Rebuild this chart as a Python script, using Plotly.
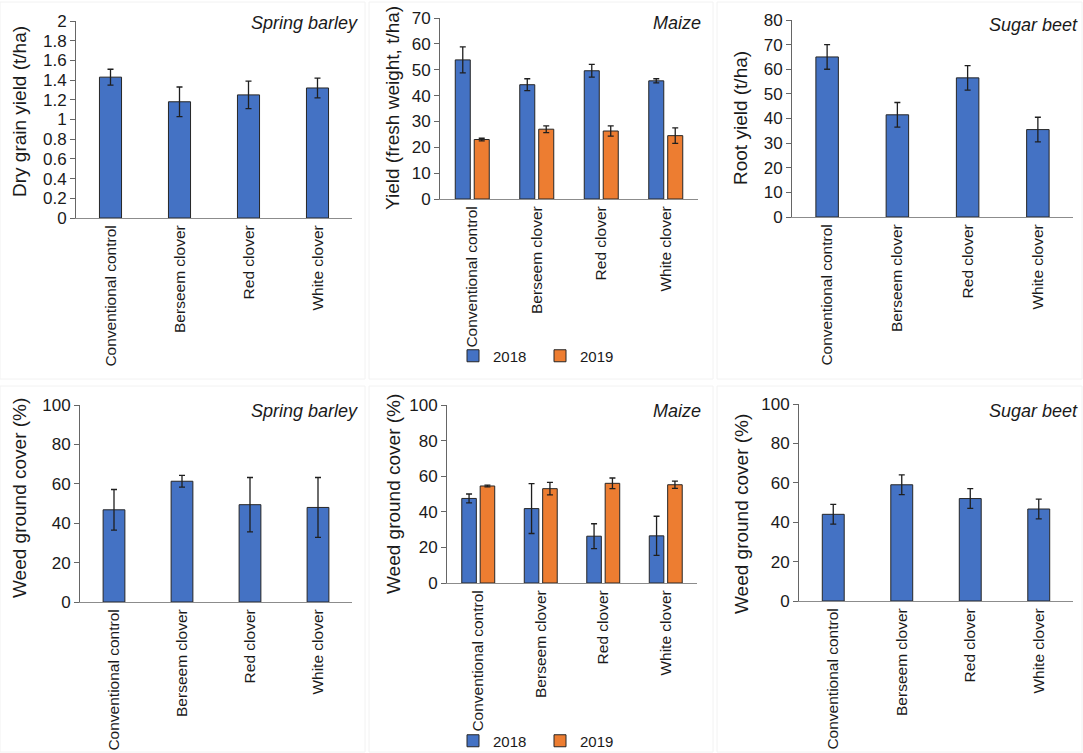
import plotly.graph_objects as go

categories = ["Conventional control", "Berseem clover", "Red clover", "White clover"]

# Top row: yields
barley_yield = [1.43, 1.18, 1.25, 1.32]
barley_yield_err = [0.08, 0.15, 0.14, 0.10]

maize_yield_2018 = [53.8, 44.2, 49.6, 45.7]
maize_yield_2018_err = [5.0, 2.3, 2.5, 0.8]
maize_yield_2019 = [23.0, 27.0, 26.3, 24.5]
maize_yield_2019_err = [0.5, 1.3, 2.0, 3.0]

beet_yield = [65.0, 41.5, 56.5, 35.5]
beet_yield_err = [5.0, 5.0, 5.0, 5.0]

# Bottom row: weed ground cover
barley_weed = [46.8, 61.3, 49.4, 48.0]
barley_weed_err = [10.3, 3.0, 13.8, 15.2]

maize_weed_2018 = [47.5, 41.8, 26.3, 26.5]
maize_weed_2018_err = [2.5, 14.0, 7.0, 11.0]
maize_weed_2019 = [54.5, 53.0, 56.0, 55.2]
maize_weed_2019_err = [0.5, 3.5, 3.0, 2.0]

beet_weed = [44.0, 59.0, 52.0, 46.7]
beet_weed_err = [5.0, 5.0, 5.0, 5.0]

W, H = 1083, 753
BLUE = "#4472C4"
ORANGE = "#ED7D31"
EDGE = "#262626"
FONT = "Liberation Sans, Arial, sans-serif"

def px_x(a, b):
    return [a / W, b / W]

def px_y(top, bottom):
    return [1 - bottom / H, 1 - top / H]

panels = [
    # (xdomain px, ydomain px, yrange, dtick)
    ((76, 352), (21, 218), [0, 2], 0.2),
    ((440, 698), (18, 199), [0, 70], 10),
    ((792, 1073), (20, 217), [0, 80], 10),
    ((80, 352), (405, 602), [0, 100], 20),
    ((447, 697), (405, 583), [0, 100], 20),
    ((799, 1073), (404, 601), [0, 100], 20),
]

fig = go.Figure()

err_style = dict(type="data", color="#1f1f1f", thickness=1.3, width=3)
single_w = 0.32
pair_w = 0.233
pair_gap = 0.147

def single(idx, vals, errs):
    fig.add_trace(go.Bar(
        x=categories, y=vals, width=single_w,
        marker=dict(color=BLUE, line=dict(color=EDGE, width=1)),
        error_y=dict(array=errs, **err_style),
        xaxis=f"x{idx}", yaxis=f"y{idx}", showlegend=False,
    ))

def pair(idx, v1, e1, v2, e2, legend):
    fig.add_trace(go.Bar(
        x=categories, y=v1, width=pair_w, offset=-pair_gap - pair_w / 2,
        name="2018",
        marker=dict(color=BLUE, line=dict(color=EDGE, width=1)),
        error_y=dict(array=e1, **err_style),
        xaxis=f"x{idx}", yaxis=f"y{idx}", legend=legend,
    ))
    fig.add_trace(go.Bar(
        x=categories, y=v2, width=pair_w, offset=pair_gap - pair_w / 2,
        name="2019",
        marker=dict(color=ORANGE, line=dict(color=EDGE, width=1)),
        error_y=dict(array=e2, **err_style),
        xaxis=f"x{idx}", yaxis=f"y{idx}", legend=legend,
    ))

single(1, barley_yield, barley_yield_err)
pair(2, maize_yield_2018, maize_yield_2018_err, maize_yield_2019, maize_yield_2019_err, "legend")
single(3, beet_yield, beet_yield_err)
single(4, barley_weed, barley_weed_err)
pair(5, maize_weed_2018, maize_weed_2018_err, maize_weed_2019, maize_weed_2019_err, "legend2")
single(6, beet_weed, beet_weed_err)

legend_common = dict(orientation="h", xanchor="center", yanchor="middle",
                     font=dict(size=15, family=FONT), itemwidth=30, tracegroupgap=0,
                     entrywidth=42, entrywidthmode="pixels",
                     bgcolor="rgba(0,0,0,0)")

layout = dict(
    width=W, height=H,
    margin=dict(l=0, r=0, t=0, b=0, pad=0, autoexpand=False),
    paper_bgcolor="white", plot_bgcolor="white",
    font=dict(family=FONT, color="#1a1a1a", size=15),
    barmode="overlay",
    legend=dict(x=540 / W, y=1 - 356 / H, **legend_common),
    legend2=dict(x=540 / W, y=1 - 741 / H, **legend_common),
)

for i, (xd, yd, yr, dt) in enumerate(panels, start=1):
    layout[f"xaxis{i}"] = dict(
        domain=px_x(*xd), anchor=f"y{i}", type="category",
        range=[-0.5, 3.5],
        showline=True, linecolor="#8c8c8c", linewidth=1.2,
        showgrid=False, zeroline=False, ticks="",
        tickangle=-90, tickfont=dict(size=15.5, family=FONT, color="#1a1a1a"),
        fixedrange=True, automargin=False,
    )
    layout[f"yaxis{i}"] = dict(
        domain=px_y(*yd), anchor=f"x{i}", range=yr, dtick=dt, tick0=0,
        showline=True, linecolor="#666666", linewidth=1,
        showgrid=False, zeroline=False, ticks="outside", ticklen=5,
        tickcolor="#666666", tickfont=dict(size=17, family=FONT, color="#1a1a1a"),
        fixedrange=True, automargin=False,
    )

fig.update_layout(**layout)

# Y-axis titles
ytitles = [
    ("Dry grain yield (t/ha)", 20, 112),
    ("Yield (fresh weight, t/ha)", 393, 108),
    ("Root yield (t/ha)", 741, 118),
    ("Weed ground cover (%)", 19, 498),
    ("Weed ground cover (%)", 393, 494),
    ("Weed ground cover (%)", 741, 514),
]
for text, xp, yp in ytitles:
    fig.add_annotation(text=text, x=xp / W, y=1 - yp / H, xref="paper", yref="paper",
                       textangle=-90, showarrow=False, xanchor="center", yanchor="middle",
                       font=dict(size=19, family=FONT, color="#1a1a1a"))

# Panel titles (italic, top right)
ptitles = [
    ("Spring barley", 360, 23),
    ("Maize", 703, 23),
    ("Sugar beet", 1080, 25),
    ("Spring barley", 360, 411),
    ("Maize", 703, 411),
    ("Sugar beet", 1080, 411),
]
for text, xp, yp in ptitles:
    fig.add_annotation(text=f"<i>{text}</i>", x=xp / W, y=1 - yp / H, xref="paper", yref="paper",
                       showarrow=False, xanchor="right", yanchor="middle",
                       font=dict(size=18, family=FONT, color="#1a1a1a"))

# faint panel frames
frames = [
    (0, 2, 365, 379), (369, 2, 713, 379), (717, 2, 1082, 379),
    (0, 386, 365, 752), (369, 386, 713, 752), (717, 386, 1082, 752),
]
for x0, y0, x1, y1 in frames:
    fig.add_shape(type="rect", xref="paper", yref="paper",
                  x0=x0 / W, x1=x1 / W, y0=1 - y1 / H, y1=1 - y0 / H,
                  line=dict(color="#f2f2f2", width=1), layer="below")

fig.write_html(
    "out.html",
    config={"displayModeBar": False},
    post_script="document.body.style.margin='0';document.body.style.overflow='hidden';",
)
